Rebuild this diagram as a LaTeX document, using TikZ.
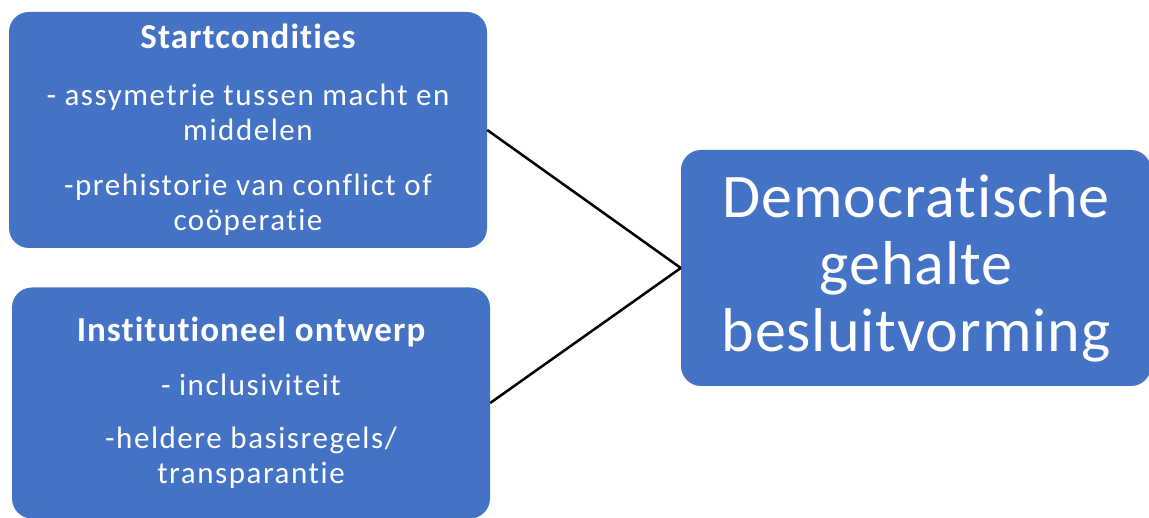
\documentclass[tikz,border=0pt]{standalone}
\usepackage{fontspec}
\setmainfont[Ligatures=NoCommon]{Carlito}
\newfontfamily\blokfont[LetterSpace=5,Ligatures=NoCommon]{Carlito}
\newfontfamily\titelfont[LetterSpace=3,Ligatures=NoCommon]{Carlito}
\newfontfamily\doelfont[LetterSpace=1.5,Ligatures=NoCommon]{Carlito}
\usepackage{tikz}
\definecolor{Blok}{HTML}{4472C4}
\newcommand{\titel}[1]{{\titelfont\bfseries\fontsize{35}{35}\selectfont #1}}

\begin{document}
\begin{tikzpicture}[x=1pt,y=-1pt,
    blok/.style={fill=Blok,rounded corners=20pt,text=white,align=center,inner sep=0pt,
      font=\blokfont\fontsize{31}{35}\selectfont},
    doel/.style={blok,font=\doelfont\fontsize{62}{67}\selectfont}]
  \useasboundingbox (0,0) rectangle (1149,518);
  \node[blok,minimum width=478pt,minimum height=236pt] (start) at (248,130)
    {\titel{Startcondities}\\[22pt]
     - assymetrie tussen macht en\\ middelen\\[20pt]
     -prehistorie van conflict of\\ coöperatie};
  \node[blok,minimum width=478pt,minimum height=231pt] (inst) at (251,403)
    {\titel{Institutioneel ontwerp}\\[19pt]
     - inclusiviteit\\[18pt]
     -heldere basisregels/\\ transparantie};
  \node[doel,minimum width=470pt,minimum height=236pt] (besl) at (916,268)
    {Democratische\\ gehalte\\ besluitvorming};
  \draw[line width=2.5pt] (start.east)--(besl.west);
  \draw[line width=2.5pt] (inst.east)--(besl.west);
\end{tikzpicture}
\end{document}
